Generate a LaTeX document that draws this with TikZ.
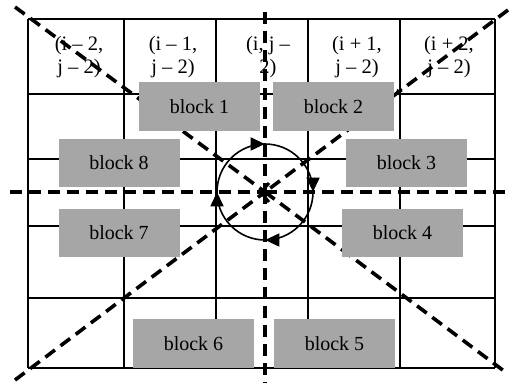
\documentclass[tikz,border=0pt]{standalone}
\usepackage{fontspec}
\setmainfont{Liberation Serif}
\usetikzlibrary{arrows.meta,decorations.markings}
\definecolor{blockgray}{HTML}{A6A6A6}
\tikzset{
  gridline/.style={line width=1.5pt,black},
  dashline/.style={line width=3.6pt,black,dash pattern=on 12pt off 7pt},
  blockbox/.style={fill=blockgray,draw=none,inner sep=0pt,minimum width=121pt,minimum height=49pt,font=\fontsize{20}{24}\selectfont},
  celltext/.style={align=center,inner sep=0pt,font=\fontsize{20.5}{23}\selectfont},
  flowtip/.style={-{Triangle[length=15pt,width=13pt]}},
  circleflow/.style={line width=1.6pt,black,
    postaction={decorate,decoration={markings,
      mark=at position 0.125 with {\arrow[scale=1.6]{Triangle[length=9pt,width=8pt]}},
      mark=at position 0.375 with {\arrow[scale=1.6]{Triangle[length=9pt,width=8pt]}},
      mark=at position 0.625 with {\arrow[scale=1.6]{Triangle[length=9pt,width=8pt]}},
      mark=at position 0.875 with {\arrow[scale=1.6]{Triangle[length=9pt,width=8pt]}}}}}
}
\begin{document}
\begin{tikzpicture}[x=1pt,y=-1pt]
\useasboundingbox (0,0) rectangle (510,383);
% grid
\foreach \xx in {28,124,216,308,400,495} \draw[gridline] (\xx,19) -- (\xx,368);
\foreach \yy in {19,94,159,226,298,368} \draw[gridline] (28,\yy) -- (495,\yy);
% cell texts
\node[celltext] (c1) at (79,57) {(i -- 2,\\ j -- 2)};
\node[celltext] (c2) at (173,57) {(i -- 1,\\ j -- 2)};
\node[celltext] (c3) at (268,57) {(i, j --\\ 2)};
\node[celltext] (c4) at (357,57) {(i + 1,\\ j -- 2)};
\node[celltext] (c5) at (449,57) {(i + 2,\\ j -- 2)};
% coordinates for dashed lines
\coordinate (o) at (265,192);
\coordinate (tl) at (15,7);
\coordinate (tr) at (508,10);
\coordinate (bl) at (15,380);
\coordinate (br) at (508,374);
\coordinate (le) at (10,192);
\coordinate (ri) at (505,192);
\coordinate (tp) at (265,12);
\coordinate (bt) at (265,383);
\coordinate (sa) at (395,94);
\coordinate (sb) at (402,89);
% dashed lines
\draw[dashline] (tl) -- (o);
\draw[dashline] (o) -- (br);
\draw[dashline] (tr) -- (o);
\draw[dashline] (bl) -- (o);
\draw[dashline] (le) -- (o);
\draw[dashline] (ri) -- (o);
\draw[dashline] (tp) -- (o);
\draw[dashline] (o) -- (bt);
% center arrow head
\draw[line width=3pt,line cap=butt] (269,183) -- (261,192.5) -- (269,202);
% small arrow
\draw[line width=1.5pt,-{Triangle[length=5pt,width=5pt]}] (sb) -- (sa);
% circle with clockwise arrows
\draw[circleflow] (o) ++(135:48pt) arc[start angle=135,end angle=-225,radius=48pt];
% blocks
\node[blockbox] (b1) at (199.5,106.5) {block 1};
\node[blockbox] (b2) at (333.5,106.5) {block 2};
\node[blockbox,minimum height=48pt] (b8) at (119,163) {block 8};
\node[blockbox,minimum height=48pt] (b3) at (406.5,163) {block 3};
\node[blockbox,minimum height=48pt] (b7) at (119,233) {block 7};
\node[blockbox,minimum height=48pt] (b4) at (402.5,233) {block 4};
\node[blockbox] (b6) at (193.5,343.5) {block 6};
\node[blockbox] (b5) at (334.5,343.5) {block 5};
\end{tikzpicture}
\end{document}
